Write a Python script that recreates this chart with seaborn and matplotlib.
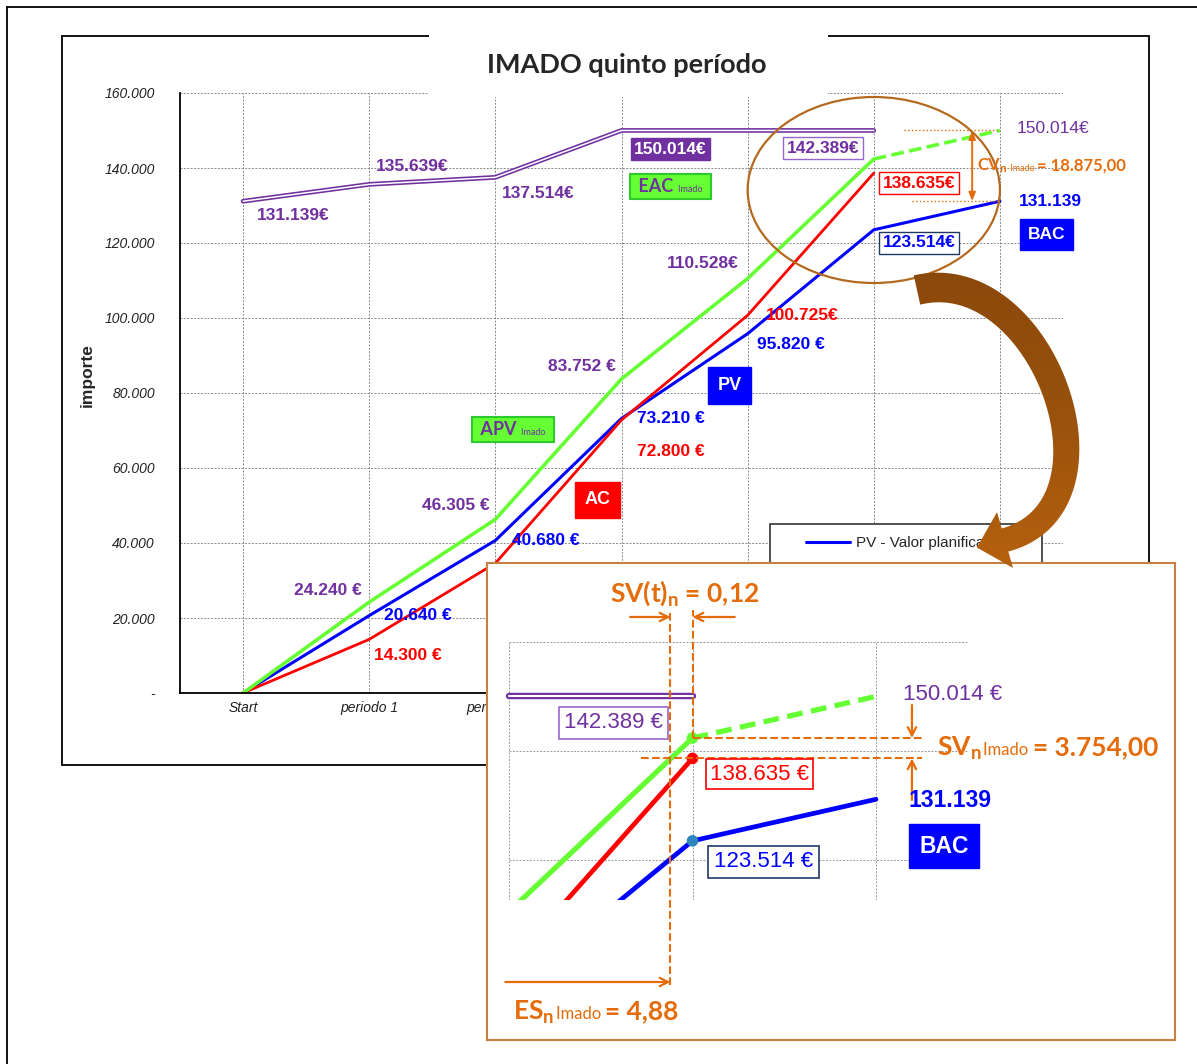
import numpy as np
import pandas as pd
import matplotlib
matplotlib.use("Agg")
import matplotlib.pyplot as plt
import seaborn as sns
from matplotlib.patches import Rectangle, Ellipse, Polygon
from matplotlib.colors import LinearSegmentedColormap
from matplotlib.offsetbox import TextArea, HPacker, AnnotationBbox
from matplotlib.lines import Line2D

# ---- data ----
periods = ["Start", "periodo 1", "periodo 2", "periodo 3", "periodo 4", "periodo 5", "periodo 6"]
pv = [0, 20640, 40680, 73210, 95820, 123514, 131139]      # PV - valor planificado
ac = [0, 14300, 34600, 72800, 100725, 138635]             # AC
apv = [0, 24240, 46305, 83752, 110528, 142389]            # APV Imado
eac = [131139, 135639, 137514, 150014, 150014, 150014]    # EAC Imado
eac_final = 150014
bac = 131139
cv = 18875.00
sv = 3754.00
sv_t = 0.12
es = 4.88

BLUE = "#0000FF"
RED = "#FF0000"
GREEN = "#66FF33"
PURPLE = "#7030A0"
ORANGE = "#E46C0A"
NAVY = "#1F3864"

sns.set_style("white")
plt.rcParams["font.family"] = ["Liberation Sans", "DejaVu Sans"]
plt.rcParams["mathtext.fontset"] = "custom"
plt.rcParams["mathtext.rm"] = "Lato:bold"
plt.rcParams["mathtext.it"] = "Lato:bold"
plt.rcParams["mathtext.bf"] = "Lato:bold"

W, H = 1197, 1064
P = 0.72  # pixels -> points at 100 dpi


def fx(px):
    return px / W


def fy(py):
    return 1 - py / H


def eur(v, space=False):
    s = f"{v:,.0f}".replace(",", ".")
    return s + (" €" if space else "€")


def es_num(v, d=2):
    s = f"{v:,.{d}f}"
    return s.replace(",", "X").replace(".", ",").replace("X", ".")


def label(a, x, y, text, off, color, size=12.5, weight="bold", box=None, pad=0.2, z=6):
    kw = {}
    if box is not None:
        kw["bbox"] = dict(boxstyle=f"square,pad={pad}", **box)
    a.annotate(text, (x, y), xytext=(off[0] * P, off[1] * P), textcoords="offset points",
               ha="center", va="center", color=color, fontsize=size, fontweight=weight,
               zorder=z, **kw)


def rich(a, xy, parts, off=(0, 0), align=(0, 0.5), box=None, pad=0.3, z=7):
    kids = [TextArea(s, textprops=dict(color=c, fontsize=fs, fontweight=fw, family="Lato"))
            for s, c, fs, fw in parts]
    pack = HPacker(children=kids, align="baseline", pad=0, sep=0)
    ab = AnnotationBbox(pack, xy, xycoords="data", xybox=(off[0] * P, off[1] * P),
                        boxcoords="offset points", box_alignment=align,
                        frameon=box is not None, pad=pad, bboxprops=box)
    ab.set_zorder(z)
    a.add_artist(ab)


fig = plt.figure(figsize=(11.97, 10.64), dpi=100)

# frames
fig.add_artist(Rectangle((fx(62), fy(765)), fx(1149) - fx(62), fy(36) - fy(765),
                         transform=fig.transFigure, fill=False, ec="black", lw=1.3, zorder=0.5))
fig.add_artist(Line2D([fx(7), fx(7)], [fy(7), 0], transform=fig.transFigure, color="black", lw=1.3))
fig.add_artist(Line2D([fx(7), 1], [fy(7), fy(7)], transform=fig.transFigure, color="black", lw=1.3))

# ---- main chart ----
ax = fig.add_axes([fx(180), fy(693), fx(1063) - fx(180), fy(93) - fy(693)])
ax.set_facecolor("none")

x_pv = list(range(len(pv)))
x5 = list(range(len(apv)))
df = pd.DataFrame({"x": x5, "pv": pv[:6], "ac": ac, "apv": apv, "eac": eac})

sns.lineplot(data=df, x="x", y="eac", color=PURPLE, lw=3.4, ax=ax)
sns.lineplot(data=df, x="x", y="eac", color="white", lw=1.1, ax=ax)
sns.lineplot(x=x_pv, y=pv, color=BLUE, lw=2.2, ax=ax)
sns.lineplot(data=df, x="x", y="ac", color=RED, lw=2.0, ax=ax)
sns.lineplot(data=df, x="x", y="apv", color=GREEN, lw=2.6, ax=ax)
sns.lineplot(x=[5, 6], y=[apv[5], eac_final], color=GREEN, lw=2.6, linestyle=(0, (3.5, 1.5)), ax=ax)

ax.set_xlim(-0.5, 6.5)
ax.set_ylim(0, 160000)
ax.set_xticks(range(len(periods)))
ax.set_xticklabels(periods, fontstyle="italic", fontsize=10, color="#222222")
# labels of periodo 3..6 sit under the zoom panel, as in the original
for t in ax.get_xticklabels()[3:]:
    t.set_visible(False)
ax.set_xticks(np.arange(-0.5, 7, 1), minor=True)
ax.tick_params(axis="x", which="major", length=0, pad=6)
ax.tick_params(axis="x", which="minor", length=4, width=1, direction="out", color="black")
yt = list(range(0, 160001, 20000))
ax.set_yticks(yt)
ax.set_yticklabels(["-" if v == 0 else f"{v:,}".replace(",", ".") for v in yt],
                   fontstyle="italic", fontsize=10, color="#222222")
ax.tick_params(axis="y", length=5, width=1, direction="out", pad=13, color="black")
ax.grid(True, which="major", color="#8a8a8a", ls=(0, (2, 1.5)), lw=0.7)
for s in ["top", "right"]:
    ax.spines[s].set_visible(False)
for s in ["left", "bottom"]:
    ax.spines[s].set_color("black")
    ax.spines[s].set_linewidth(1.3)
ax.set_xlabel("")
ax.set_ylabel("importe", fontsize=12.5, fontweight="bold")
ax.yaxis.set_label_coords((95 - 180) / 883, 0.53)

# data labels
label(ax, 0, eac[0], eur(eac[0]), (50, -14), PURPLE)
label(ax, 1, eac[1], eur(eac[1]), (43, 18), PURPLE)
label(ax, 2, eac[2], eur(eac[2]), (43, -16), PURPLE)
label(ax, 3, eac[3], eur(eac[3]), (49, -19), "white", box=dict(fc=PURPLE, ec=PURPLE))
rich(ax, (3, eac[3]), [(" EAC ", PURPLE, 13, "bold"), ("Imado  ", PURPLE, 6.5, "normal")],
     off=(49, -56), align=(0.5, 0.5), box=dict(boxstyle="square", fc=GREEN, ec="#2EC92E", lw=1.5), pad=0.15)

label(ax, 1, apv[1], eur(apv[1], True), (-41, 12), PURPLE)
label(ax, 2, apv[2], eur(apv[2], True), (-40, 14), PURPLE)
label(ax, 3, apv[3], eur(apv[3], True), (-40, 12), PURPLE)
label(ax, 4, apv[4], eur(apv[4]), (-45, 15), PURPLE)
label(ax, 5, apv[5], eur(apv[5]), (-51, 11), PURPLE, box=dict(fc="white", ec="#9966CC", lw=1))
rich(ax, (2, apv[2]), [(" APV ", PURPLE, 13, "bold"), ("Imado  ", PURPLE, 6.5, "normal")],
     off=(18, 90), align=(0.5, 0.5), box=dict(boxstyle="square", fc=GREEN, ec="#2EC92E", lw=1.5), pad=0.15)

label(ax, 1, pv[1], eur(pv[1], True), (49, 0), BLUE)
label(ax, 2, pv[2], eur(pv[2], True), (50, 0), BLUE)
label(ax, 3, pv[3], eur(pv[3], True), (49, 0), BLUE)
label(ax, 4, pv[4], eur(pv[4], True), (43, -11), BLUE)
label(ax, 5, pv[5], eur(pv[5]), (45, -13), BLUE, box=dict(fc="white", ec=NAVY, lw=1))
label(ax, 6, pv[6], f"{pv[6]:,}".replace(",", "."), (50, 0), BLUE)
label(ax, 6, pv[6], "BAC", (47, -33), "white", box=dict(fc=BLUE, ec=BLUE), pad=0.45)
label(ax, 3, pv[3], "PV", (108, 33), "white", size=13, box=dict(fc=BLUE, ec=BLUE), pad=0.55)

label(ax, 1, ac[1], eur(ac[1], True), (39, -16), RED)
label(ax, 3, ac[3], eur(ac[3], True), (49, -32), RED)
label(ax, 4, ac[4], eur(ac[4]), (55, 0), RED)
label(ax, 5, ac[5], eur(ac[5]), (45, -10), RED, box=dict(fc="white", ec=RED, lw=1))
label(ax, 3, ac[3], "AC", (-24, -80), "white", size=13, box=dict(fc=RED, ec=RED), pad=0.55)

label(ax, 6, eac_final, eur(eac_final), (53, 2), PURPLE, weight="normal")

# CV annotation
ax.plot([5.24, 6.0], [eac_final, eac_final], color=ORANGE, ls=":", lw=1)
ax.plot([5.30, 6.0], [bac, bac], color=ORANGE, ls=":", lw=1)
ax.annotate("", xy=(5.78, eac_final), xytext=(5.78, bac),
            arrowprops=dict(arrowstyle="<|-|>,head_length=0.5,head_width=0.2", color=ORANGE, lw=1.4,
                            shrinkA=0, shrinkB=0))
rich(ax, (5.82, 140533), [("CV$_\\mathrm{n}$", ORANGE, 12, "bold"), (" Imado ", ORANGE, 6.5, "normal"),
                          ("= " + es_num(cv), ORANGE, 12, "bold")])

ax.add_patch(Ellipse((5, 134133), 2.0, 49600, fill=False, ec="#B46A1E", lw=1.6, zorder=5))

# legend (its lower part is hidden under the zoom panel)
ax.add_patch(Rectangle(((770 - 180) / 883, (693 - 580) / 600), (1042 - 770) / 883, (580 - 524) / 600,
                       transform=ax.transAxes, fc="white", ec="#333333", lw=1.2, zorder=4.5, clip_on=False))
ax.legend(handles=[Line2D([0], [0], color=BLUE, lw=2.2)], labels=["PV - Valor planificado"],
          loc="center left", bbox_to_anchor=((806 - 180) / 883, (693 - 543) / 600),
          borderaxespad=0, borderpad=0, frameon=False, fontsize=11,
          handlelength=2.9, handletextpad=0.4)

# title area
fig.add_artist(Rectangle((fx(429), fy(97)), fx(828) - fx(429), fy(28) - fy(97),
                         transform=fig.transFigure, fc="white", ec="none", zorder=2))
fig.text(fx(627), fy(65), "IMADO quinto período", ha="center", va="center", fontsize=19.5,
         fontweight="bold", family="Lato", zorder=3)

# ---- zoomed inset ----
ax2 = fig.add_axes([fx(487), fy(1040), fx(1175) - fx(487), fy(563) - fy(1040)], zorder=5)
ax2.set_facecolor("white")
ax2.set_xlim(4 + (487 - 509) / 183.5, 4 + (1175 - 509) / 183.5)
ax2.set_ylim(120000 - (1040 - 860) * 20000 / 109, 120000 + (860 - 563) * 20000 / 109)
ax2.set_xticks([])
ax2.set_yticks([])
for s in ax2.spines.values():
    s.set_color("#C8803E")
    s.set_linewidth(1.5)

ylo = 112700
for v in [120000, 140000, 160000]:
    ax2.plot([4, 6.5], [v, v], color="#9a9a9a", ls=(0, (2, 1.5)), lw=0.7, zorder=1)
for xv in [4, 5, 6]:
    ax2.plot([xv, xv], [ylo, 160000], color="#9a9a9a", ls=(0, (2, 1.5)), lw=0.7, zorder=1)

sns.lineplot(x=[4, 5], y=eac[4:6], color=PURPLE, lw=4.6, ax=ax2)
sns.lineplot(x=[4, 5], y=eac[4:6], color="white", lw=1.5, ax=ax2)
sns.lineplot(x=x_pv[3:], y=pv[3:], color=BLUE, lw=3.4, ax=ax2)
sns.lineplot(x=x5[3:], y=ac[3:], color=RED, lw=3.4, ax=ax2)
sns.lineplot(x=x5[3:], y=apv[3:], color=GREEN, lw=3.8, ax=ax2)
sns.lineplot(x=[5, 6], y=[apv[5], eac_final], color=GREEN, lw=3.8, linestyle=(0, (3, 1.6)), ax=ax2)
clip = Rectangle((3.98, ylo), 2.55, 160000 - ylo, transform=ax2.transData)
for ln in ax2.lines:
    ln.set_clip_path(clip)
ax2.set_xlabel("")
ax2.set_ylabel("")

sns.scatterplot(x=[5, 5, 5], y=[apv[5], ac[5], pv[5]], hue=["a", "b", "c"],
                palette=[GREEN, RED, "#2E86C1"], s=70, legend=False, edgecolor="none", zorder=4, ax=ax2)

label(ax2, 5, apv[5], eur(apv[5], True), (-79, 15), PURPLE, size=16, weight="normal",
      box=dict(fc="white", ec="#9966CC", lw=1.2), pad=0.25)
label(ax2, 5, ac[5], eur(ac[5], True), (67, -16), RED, size=16, weight="normal",
      box=dict(fc="white", ec=RED, lw=1.2), pad=0.2)
label(ax2, 5, pv[5], eur(pv[5], True), (71, -21), BLUE, size=16, weight="normal",
      box=dict(fc="white", ec=NAVY, lw=1.2), pad=0.25)
label(ax2, 6, eac_final, eur(eac_final, True), (77, 2), PURPLE, size=16, weight="normal")
label(ax2, 6, pv[6], f"{pv[6]:,}".replace(",", "."), (74, -1), BLUE, size=16.5)
label(ax2, 6, pv[6], "BAC", (68, -47), "white", size=16.5, box=dict(fc=BLUE, ec=BLUE), pad=0.45)

# SV(t) / ES / SV annotations
ydash_top = 120000 + (860 - 610) * 20000 / 109
ax2.plot([es, es], [120000 - (985 - 860) * 20000 / 109, ydash_top], color=ORANGE, ls="--", lw=1.5, zorder=5)
ax2.plot([5, 5], [apv[5], ydash_top], color=ORANGE, ls="--", lw=1.5, zorder=5)
ax2.plot([5, 6.25], [apv[5], apv[5]], color=ORANGE, ls="--", lw=1.5, zorder=5)
ax2.plot([4.72, 6.25], [ac[5], ac[5]], color=ORANGE, ls="--", lw=1.5, zorder=5)
arr = dict(arrowstyle="->,head_length=0.6,head_width=0.3", color=ORANGE, lw=1.6, shrinkA=0, shrinkB=0)
ya = 120000 + (860 - 617) * 20000 / 109
ax2.annotate("", xy=(es, ya), xytext=(4.66, ya), arrowprops=arr)
ax2.annotate("", xy=(5.0, ya), xytext=(5.23, ya), arrowprops=arr)
ax2.annotate("", xy=(6.196, apv[5]), xytext=(6.196, 148440), arrowprops=arr)
ax2.annotate("", xy=(6.196, ac[5]), xytext=(6.196, 131009), arrowprops=arr)
yb = 120000 - (982 - 860) * 20000 / 109
ax2.annotate("", xy=(es, yb), xytext=(3.98, yb), arrowprops=arr)

ax2.text(4.96, 168991, "SV(t)$_\\mathrm{n}$ = " + es_num(sv_t), ha="center", va="center",
         color=ORANGE, fontsize=19, fontweight="bold", family="Lato", zorder=7)
rich(ax2, (6.332, 140550), [("SV$_\\mathrm{n}$ ", ORANGE, 19, "bold"), ("Imado ", ORANGE, 12, "normal"),
                            ("= " + es_num(sv), ORANGE, 19, "bold")])
rich(ax2, (4.02, 92110), [("ES$_\\mathrm{n}$ ", ORANGE, 19, "bold"), ("Imado ", ORANGE, 12, "normal"),
                          ("= " + es_num(es), ORANGE, 19, "bold")])

# ---- curved pointer arrow (pixel overlay), brown gradient ----
ov = fig.add_axes([0, 0, 1, 1], zorder=10)
ov.set_xlim(0, W)
ov.set_ylim(H, 0)
ov.axis("off")
p0, p3 = np.array([917.0, 290.0]), np.array([1005.0, 540.0])
d0, d3 = np.array([0.97, -0.23]), np.array([-0.97, 0.26])
p1, p2 = p0 + 130 * d0, p3 - 130 * d3
t = np.linspace(0, 1, 120)[:, None]
c = (1 - t) ** 3 * p0 + 3 * (1 - t) ** 2 * t * p1 + 3 * (1 - t) * t ** 2 * p2 + t ** 3 * p3
dc = np.gradient(c, axis=0)
nrm = np.c_[-dc[:, 1], dc[:, 0]] / np.hypot(dc[:, 0], dc[:, 1])[:, None]
hw = np.linspace(15, 12, len(c))[:, None]
inner, outer = c + hw * nrm, c - hw * nrm
n3 = nrm[-1]
head = [p3 - 29 * n3, p3 + 29 * d3, p3 + 29 * n3]
arrow = Polygon(np.vstack([outer, head, inner[::-1]]), closed=True, transform=ov.transData,
                fc="none", ec="none")
ov.add_patch(arrow)
brown = LinearSegmentedColormap.from_list("brown", ["#8A480B", "#9A520C", "#B8620E"])
im = ov.imshow(np.linspace(0, 1, 256)[:, None], cmap=brown, extent=(880, 1100, 580, 260),
               aspect="auto", origin="upper", interpolation="bilinear")
im.set_clip_path(arrow)
ov.set_xlim(0, W)
ov.set_ylim(H, 0)

fig.savefig("out.png", dpi=100)
